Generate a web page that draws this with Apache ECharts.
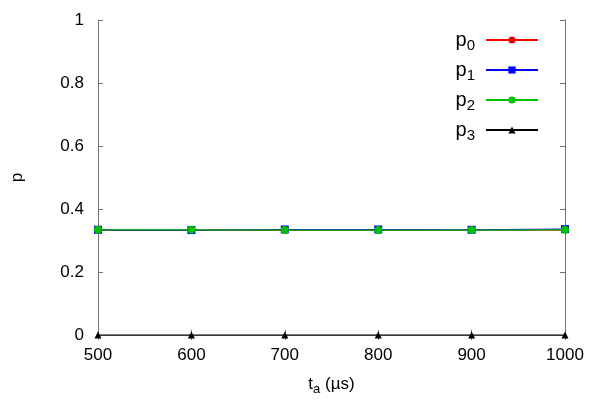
<!DOCTYPE html>
<html>
<head>
<meta charset="utf-8">
<script src="https://cdn.jsdelivr.net/npm/echarts@6/dist/echarts.min.js"></script>
<style>
  html, body { margin: 0; padding: 0; background: #fff; }
  #main { width: 600px; height: 420px; }
</style>
</head>
<body>
<div id="main"></div>
<script>
// 数据
var ta = [500, 600, 700, 800, 900, 1000];
var p0 = [0.332, 0.333, 0.332, 0.332, 0.333, 0.333];
var p1 = [0.334, 0.333, 0.335, 0.335, 0.334, 0.336];
var p2 = [0.334, 0.334, 0.333, 0.333, 0.333, 0.334];
var p3 = [0, 0, 0, 0, 0, 0];
var names = ['p0', 'p1', 'p2', 'p3'];
var colors = ['#ff0000', '#0000ff', '#00c000', '#000000'];
var symbols = ['circle', 'rect', 'circle', 'triangle'];
var sizes = [6, 8, 8, 7];

var myChart = echarts.init(document.getElementById('main'));
var font = 'Liberation Sans';
var frame = { show: true, lineStyle: { color: '#707070', width: 1 } };
var tick = { show: true, inside: true, length: 5, lineStyle: { color: '#707070' } };

function pairs(ys) {
    var out = [];
    for (var i = 0; i < ta.length; i++) out.push([ta[i], ys[i]]);
    return out;
}

var allData = [p0, p1, p2, p3];
var series = names.map(function (n, i) {
    return {
        name: n,
        type: 'line',
        data: pairs(allData[i]),
        symbol: symbols[i],
        symbolSize: sizes[i],
        showSymbol: true,
        lineStyle: { color: colors[i], width: 1.2 },
        itemStyle: { color: colors[i] },
        clip: false
    };
});

var option = {
    backgroundColor: '#fff',
    animation: false,
    textStyle: { fontFamily: font },
    grid: { left: 98, right: 35, top: 20, bottom: 85 },
    legend: {
        right: 56,
        top: 25,
        orient: 'vertical',
        align: 'right',
        itemWidth: 52,
        itemHeight: 9,
        itemGap: 7,
        data: names,
        formatter: function (n) {
            return '{p|p}{s|' + n.slice(1) + '}';
        },
        textStyle: {
            color: '#000',
            padding: [0, 6, 0, 0],
            rich: {
                p: { fontSize: 20, fontFamily: font, color: '#000' },
                s: { fontSize: 15, fontFamily: font, color: '#000', padding: [11, 0, 0, 0] }
            }
        }
    },
    xAxis: [{
        type: 'value',
        min: 500, max: 1000, interval: 100,
        name: '{p|t}{s|a}{p| (µs)}',
        nameLocation: 'middle',
        nameGap: 38,
        nameTextStyle: {
            rich: {
                p: { fontSize: 17, fontFamily: font, color: '#000' },
                s: { fontSize: 13, fontFamily: font, color: '#000', padding: [10, 0, 0, 0] }
            }
        },
        axisLine: frame,
        axisTick: tick,
        axisLabel: {
            fontSize: 17, color: '#000', margin: 12,
            formatter: function (v) { return String(v); }
        },
        splitLine: { show: false }
    }, {
        type: 'value', position: 'top',
        min: 500, max: 1000, interval: 100,
        axisLine: frame,
        axisTick: tick,
        axisLabel: { show: false },
        splitLine: { show: false }
    }],
    yAxis: [{
        type: 'value',
        min: 0, max: 1, interval: 0.2,
        name: 'p',
        nameLocation: 'middle',
        nameGap: 72,
        nameRotate: 90,
        nameTextStyle: { fontSize: 17, color: '#000' },
        axisLine: frame,
        axisTick: tick,
        axisLabel: { fontSize: 17, color: '#000', margin: 14 },
        splitLine: { show: false }
    }, {
        type: 'value', position: 'right',
        min: 0, max: 1, interval: 0.2,
        axisLine: frame,
        axisTick: tick,
        axisLabel: { show: false },
        splitLine: { show: false }
    }],
    series: series
};
myChart.setOption(option);
window.addEventListener('resize', function () {
    myChart.resize();
});
</script>
</body>
</html>
